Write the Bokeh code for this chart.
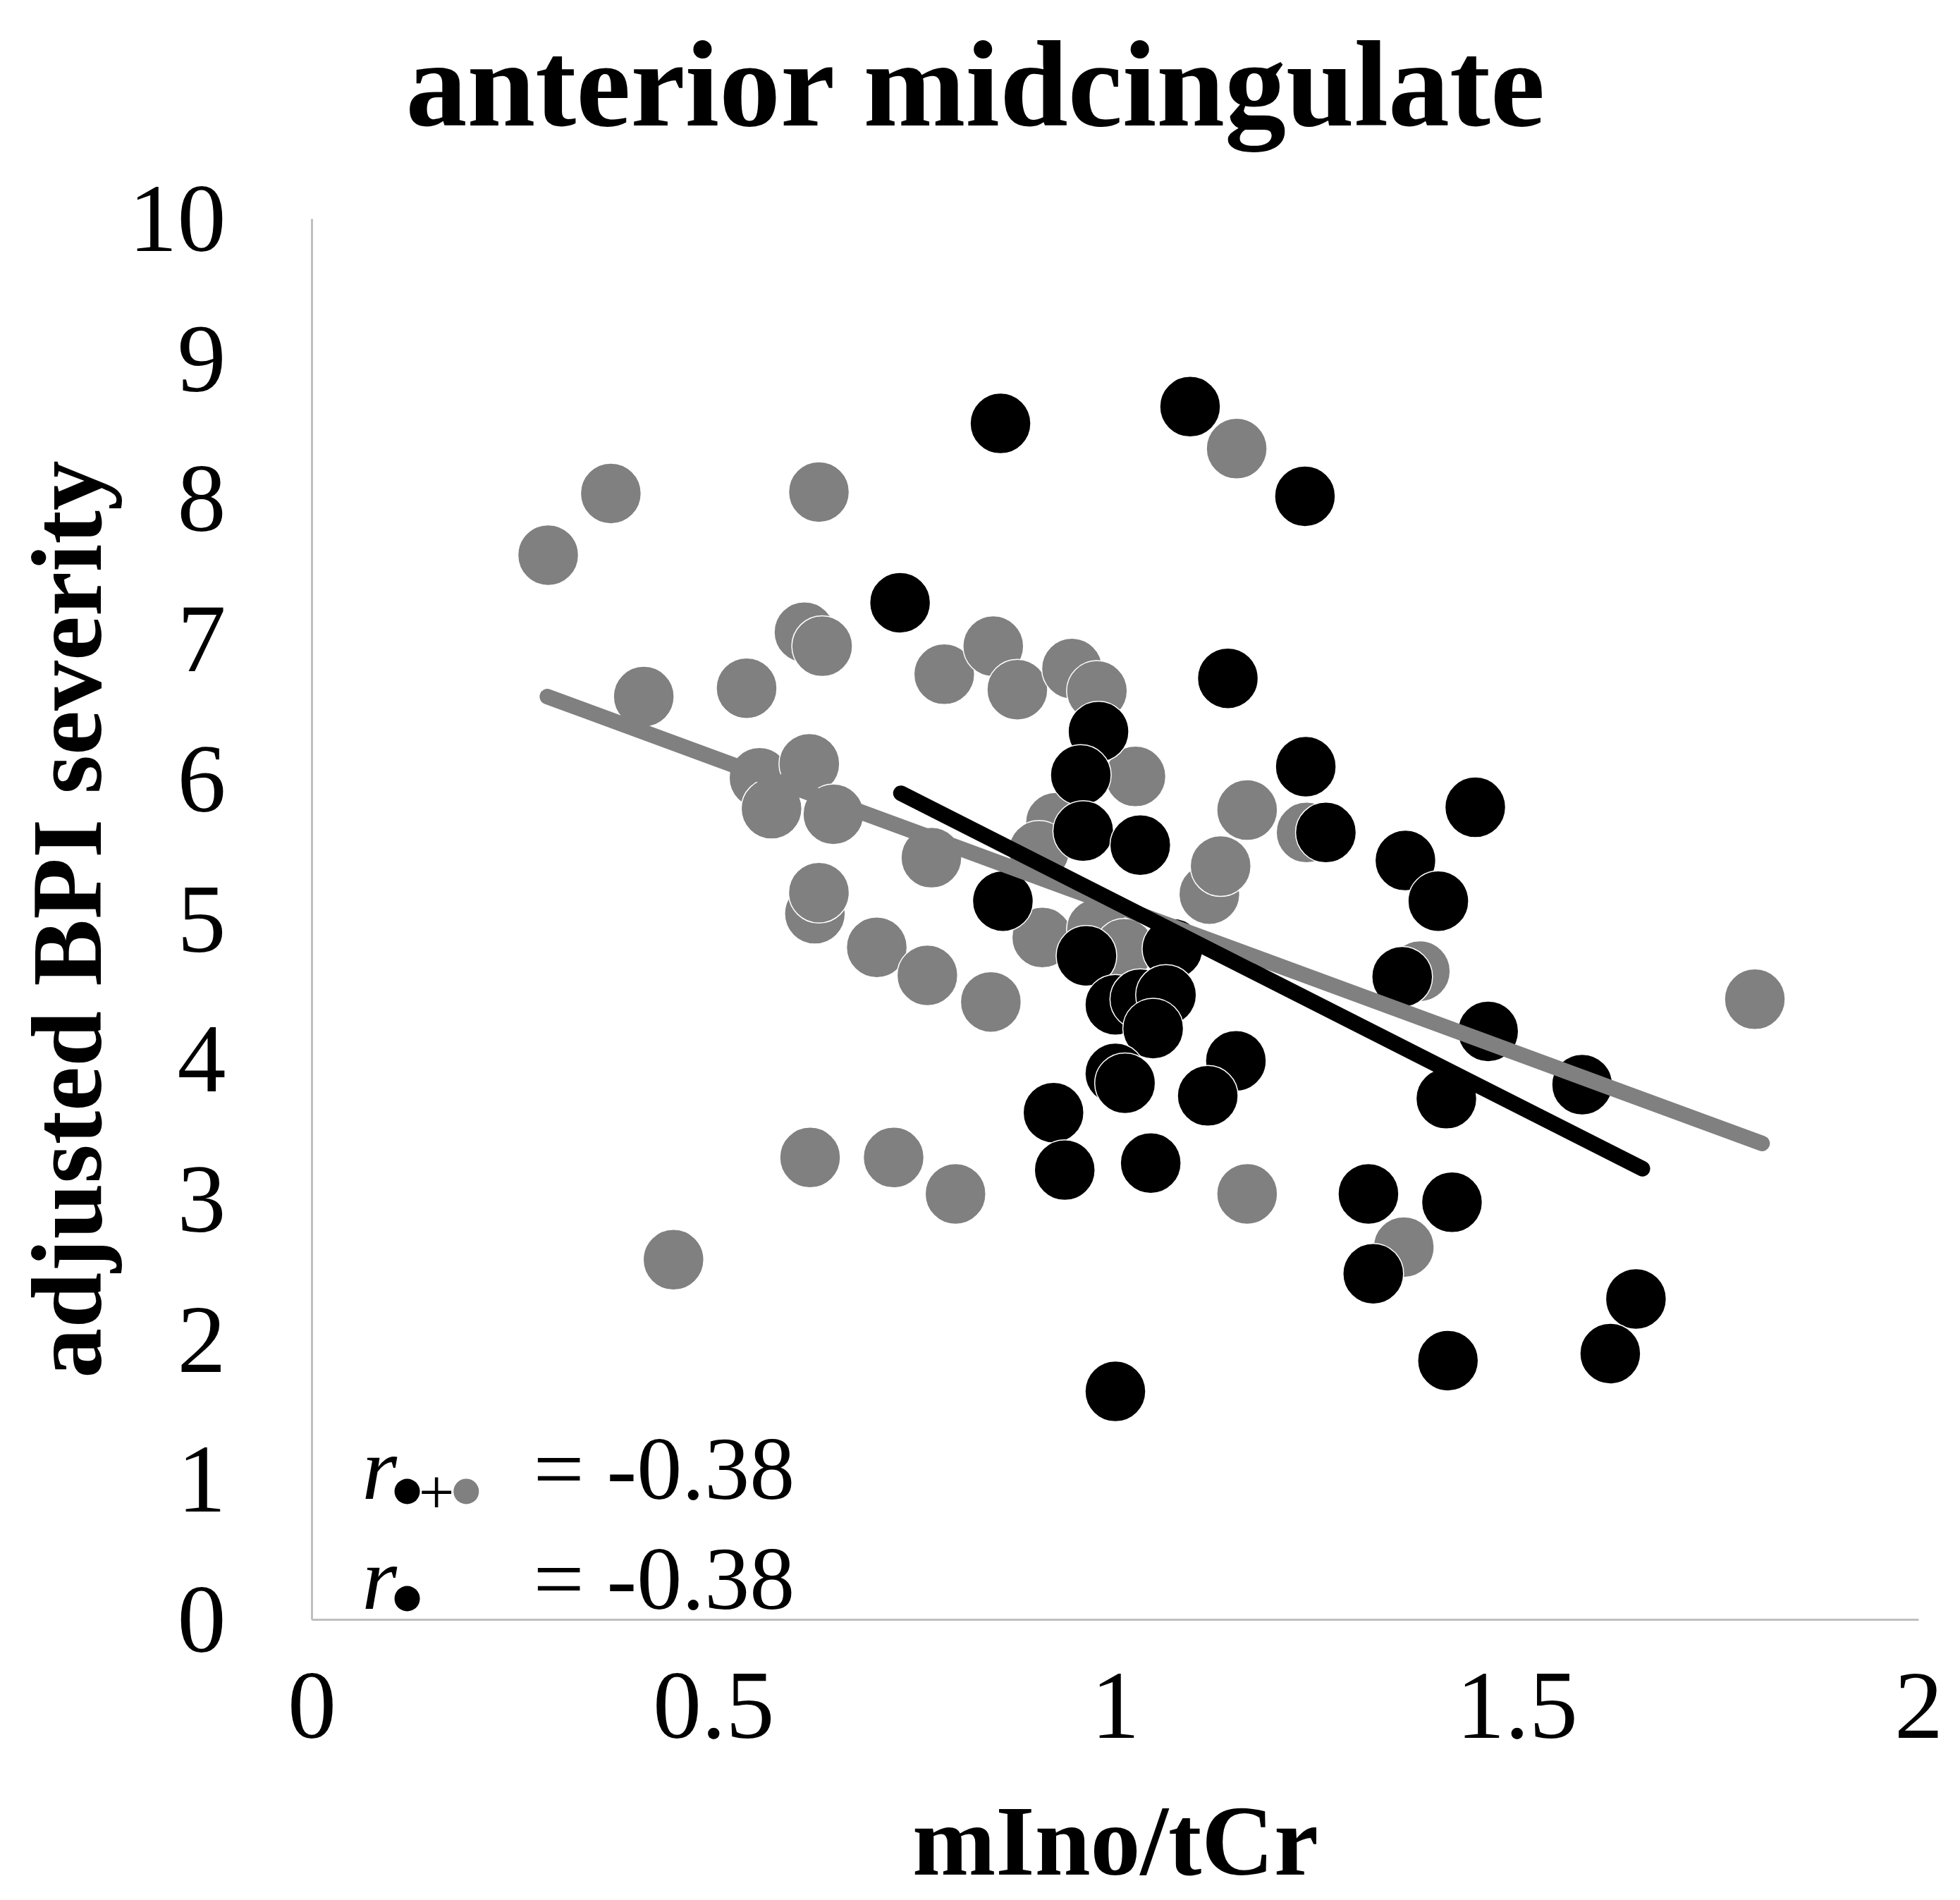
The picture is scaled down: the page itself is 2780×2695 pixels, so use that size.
from bokeh.plotting import figure
from bokeh.models import Range1d, FixedTicker, Label, Title
from bokeh.embed import file_html
from bokeh.resources import INLINE

# ---------------- data ----------------
# grey points
gray_x = [0.294, 0.372, 0.413, 0.450, 0.541, 0.557, 0.572, 0.613, 0.619, 0.620,
          0.626, 0.631, 0.631, 0.635, 0.649, 0.703, 0.724, 0.771, 0.766, 0.787,
          0.801, 0.845, 0.848, 0.878, 0.909, 0.926, 0.946, 0.977, 0.905, 0.977,
          1.025, 1.011, 1.117, 1.131, 1.151, 1.164, 1.164, 1.238, 1.379, 1.359,
          1.796]
gray_y = [7.60, 8.04, 6.59, 2.57, 6.65, 6.01, 5.79, 7.05, 6.11, 3.30,
          5.04, 5.19, 8.05, 6.95, 5.75, 4.80, 3.30, 5.44, 4.60, 6.75,
          3.04, 4.41, 6.95, 6.64, 4.87, 5.69, 6.79, 6.63, 5.49, 4.93,
          6.02, 4.79, 5.18, 5.38, 8.36, 5.78, 3.04, 5.62, 4.63, 2.66,
          4.43]
# black points
black_x = [0.857, 1.093, 1.236, 0.732, 1.140, 0.979, 0.957, 0.960, 1.031, 1.237,
           1.262, 1.448, 1.361, 1.402, 0.860, 0.964, 1.071, 1.000, 1.031, 1.063,
           1.047, 1.357, 1.464, 1.150, 1.000, 1.012, 1.115, 1.412, 1.581, 0.923,
           0.937, 1.044, 1.315, 1.419, 1.321, 1.648, 1.414, 1.616, 1.000]
black_y = [8.54, 8.66, 8.02, 7.26, 6.72, 6.34, 6.03, 5.63, 5.53, 6.09,
           5.62, 5.80, 5.42, 5.13, 5.13, 4.74, 4.79, 4.39, 4.43, 4.46,
           4.22, 4.59, 4.20, 3.99, 3.90, 3.83, 3.74, 3.72, 3.82, 3.62,
           3.21, 3.26, 3.04, 2.98, 2.47, 2.29, 1.85, 1.90, 1.63]
# trend lines
gray_fit_x = [0.293, 1.805]
gray_fit_y = [6.59, 3.40]
black_fit_x = [0.733, 1.656]
black_fit_y = [5.90, 3.22]

x_ticks = [0, 0.5, 1, 1.5, 2]
x_tick_labels = ["0", "0.5", "1", "1.5", "2"]
y_ticks = list(range(11))

title_text = "anterior midcingulate"
x_title = "mIno/tCr"
y_title = "adjusted BPI severity"
r_all_text = "= -0.38"
r_black_text = "= -0.38"

GRAY = "#808080"
BLACK = "#000000"
FONT = "Liberation Serif"

# ---------------- figure ----------------
p = figure(width=2780, height=2695, output_backend="svg", toolbar_location=None,
           x_range=Range1d(0, 2), y_range=Range1d(0, 10),
           min_border_left=442, min_border_right=59,
           min_border_top=310, min_border_bottom=398,
           title=None)
p.background_fill_color = "white"
p.border_fill_color = "white"
p.outline_line_color = None
p.xgrid.visible = False
p.ygrid.visible = False

# small blank spacer between the frame and the title
spacer = Title(text=" ", text_font_size="10px", standoff=77)
p.add_layout(spacer, "above")
main_title = Title(text=title_text, text_font=FONT, text_font_size="174px",
                   text_font_style="bold", text_color=BLACK, align="left",
                   offset=133, standoff=10)
p.add_layout(main_title, "above")

for ax in (p.xaxis[0], p.yaxis[0]):
    ax.axis_line_color = "#bfbfbf"
    ax.axis_line_width = 3
    ax.major_tick_line_color = None
    ax.minor_tick_line_color = None
    ax.major_tick_out = 0
    ax.major_tick_in = 0
    ax.minor_tick_out = 0
    ax.minor_tick_in = 0
    ax.major_label_text_font = FONT
    ax.major_label_text_color = BLACK
    ax.axis_label_text_font = FONT
    ax.axis_label_text_font_style = "bold"
    ax.axis_label_text_color = BLACK
    ax.axis_label_text_font_size = "142px"

p.xaxis.ticker = FixedTicker(ticks=x_ticks)
p.xaxis.major_label_overrides = dict(zip(x_ticks, x_tick_labels))
p.xaxis.major_label_text_font_size = "138px"
p.xaxis.major_label_standoff = 76
p.xaxis.axis_label = x_title
p.xaxis.axis_label_standoff = 64

p.yaxis.ticker = FixedTicker(ticks=y_ticks)
p.yaxis.major_label_text_font_size = "138px"
p.yaxis.major_label_standoff = 122
p.yaxis.axis_label = y_title
p.yaxis.axis_label_standoff = 6

# ---------------- marks ----------------
p.scatter(gray_x, gray_y, size=86, fill_color=GRAY, line_color="white", line_width=1.5)
p.scatter(black_x, black_y, size=86, fill_color=BLACK, line_color="white", line_width=1.5)
p.line(gray_fit_x, gray_fit_y, line_color=GRAY, line_width=22, line_cap="round")
p.line(black_fit_x, black_fit_y, line_color=BLACK, line_width=22, line_cap="round")

# ---------------- correlation key ----------------
key_r_x = 0.062
key_eq_x = 0.2755
key_row_y = [1.082, 0.296]
key_texts = [r_all_text, r_black_text]
for yy, tt in zip(key_row_y, key_texts):
    p.add_layout(Label(x=key_r_x, y=yy, text="r", text_font=FONT, text_font_style="italic",
                       text_font_size="128px", text_color=BLACK, text_baseline="alphabetic"))
    p.add_layout(Label(x=key_eq_x, y=yy, text=tt, text_font=FONT,
                       text_font_size="128px", text_color=BLACK, text_baseline="alphabetic"))

key_dot_x = [0.1185, 0.192, 0.1185]
key_dot_y = [0.916, 0.916, 0.151]
key_dot_c = [BLACK, GRAY, BLACK]
p.scatter(key_dot_x, key_dot_y, size=36, fill_color=key_dot_c, line_color=None)
p.add_layout(Label(x=0.155, y=0.906, text="+", text_font=FONT, text_font_size="90px",
                   text_color=BLACK, text_align="center", text_baseline="middle"))

open("out.html", "w").write(file_html(p, INLINE))
